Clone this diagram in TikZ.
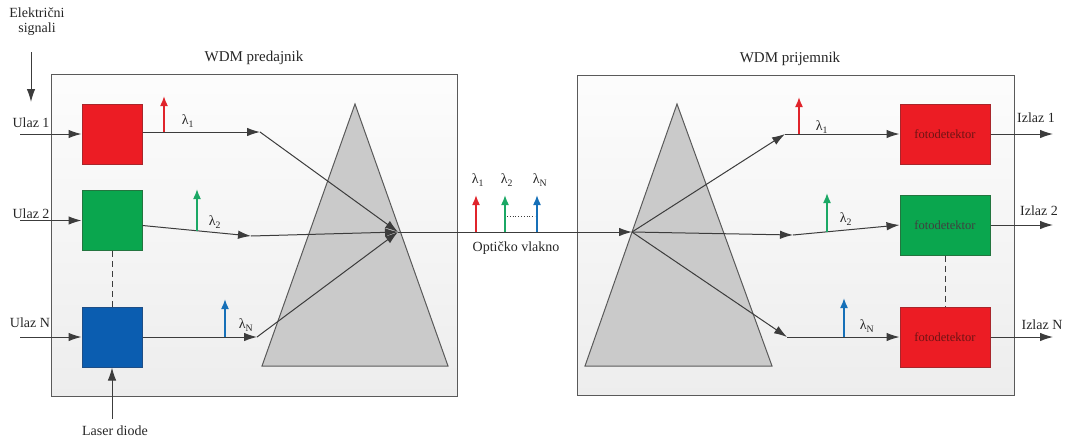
\documentclass[tikz,border=0pt]{standalone}
\usepackage{fontspec}
\setmainfont{Liberation Serif}
\usetikzlibrary{arrows.meta}
\definecolor{lncol}{HTML}{3C3C3C}
\definecolor{panelcol}{HTML}{5A5A5A}
\definecolor{redbox}{HTML}{EC1C24}
\definecolor{redbd}{HTML}{A8262B}
\definecolor{greenbox}{HTML}{0AA64E}
\definecolor{greenbd}{HTML}{23753F}
\definecolor{bluebox}{HTML}{0B5DB0}
\definecolor{bluebd}{HTML}{1E4E86}
\definecolor{redarr}{HTML}{E0242B}
\definecolor{greenarr}{HTML}{1BA865}
\definecolor{bluearr}{HTML}{1670B8}
\definecolor{prismfill}{HTML}{CACACA}
\definecolor{dettxt}{HTML}{6E1414}
\begin{document}
\begin{tikzpicture}[x=1pt,y=-1pt,
  ln/.style={draw=lncol, line width=1pt},
  arr/.style={ln, -{Latex[length=13pt,width=8.5pt]}},
  carr/.style={line width=1.6pt, -{Latex[length=10pt,width=8pt]}},
  panel/.style={draw=panelcol, line width=1pt, top color=white!99!black, bottom color=white!93!black, inner sep=0pt},
  prism/.style={draw=panelcol, line width=1pt, fill=prismfill},
  laser/.style={line width=1pt, minimum width=60pt, minimum height=60pt, inner sep=0pt},
  det/.style={line width=1pt, minimum width=90pt, minimum height=60pt, inner sep=0pt, font=\fontsize{12.5}{14}\selectfont},
  lbl/.style={font=\fontsize{14}{16}\selectfont, inner sep=0pt, text=black!85},
  ttl/.style={font=\fontsize{15}{17}\selectfont, inner sep=0pt, text=black!85},
  lam/.style={font=\fontsize{14}{15}\selectfont, inner sep=0pt, text=black!85},
  dashline/.style={draw=lncol, line width=1pt, dash pattern=on 6pt off 4pt},
]
\useasboundingbox (0,0) rectangle (1071,437);

% panels
\node[panel, minimum width=406pt, minimum height=322pt] (tx) at (254,235) {};
\node[panel, minimum width=437pt, minimum height=320pt] (rx) at (795.5,235) {};
\node[ttl] (txt) at (254,58) {WDM predajnik};
\node[ttl] (rxt) at (790,59) {WDM prijemnik};

% prisms
\coordinate (pLa) at (355,104);
\coordinate (pLb) at (262,366);
\coordinate (pLc) at (448,366);
\coordinate (pRa) at (677,104);
\coordinate (pRb) at (585,366);
\coordinate (pRc) at (772,366);
\draw[prism] (pLa) -- (pLb) -- (pLc) -- cycle;
\draw[prism] (pRa) -- (pRb) -- (pRc) -- cycle;

% lasers
\node[laser, fill=redbox, draw=redbd] (L1) at (112,134) {};
\node[laser, fill=greenbox, draw=greenbd] (L2) at (112,220.5) {};
\node[laser, fill=bluebox, draw=bluebd] (L3) at (112,337) {};
\draw[dashline] (L2.south) -- (L3.north);

% detectors
\node[det, fill=redbox, draw=redbd, text=dettxt] (D1) at (945,134) {fotodetektor};
\node[det, fill=greenbox, draw=greenbd, text=black!75] (D2) at (945,225) {fotodetektor};
\node[det, fill=redbox, draw=redbd, text=dettxt] (D3) at (945,337) {fotodetektor};
\draw[dashline] (D2.south) -- (D3.north);

% inputs
\node[lbl] (u1) at (31,123) {Ulaz 1};
\node[lbl] (u2) at (31,214) {Ulaz 2};
\node[lbl] (u3) at (30,323) {Ulaz N};
\coordinate (i1) at (20,134);
\coordinate (i2) at (20,220.5);
\coordinate (i3) at (20,337);
\draw[arr] (i1) -- (L1.west);
\draw[arr] (i2) -- (L2.west);
\draw[arr] (i3) -- (L3.west);

\node[lbl, align=center] (es) at (37,22) {Električni\\[-1pt]signali};
\coordinate (es1) at (31,52);
\coordinate (es2) at (31,102);
\draw[arr] (es1) -- (es2);

\node[lbl] (ld) at (115,431) {Laser diode};
\coordinate (ld1) at (112,419);
\draw[arr] (ld1) -- (L3.south);

% transmitter paths
\coordinate (cL) at (398,232);
\coordinate (b1) at (260,132);
\coordinate (b2) at (251,236);
\coordinate (b3) at (257,337);
\draw[arr] (L1.east |- b1) -- (b1);
\draw[arr] ([yshift=-5pt]L2.east) -- (b2);
\draw[arr] (L3.east) -- (b3);
\draw[arr] (b1) -- (cL);
\draw[arr] (b2) -- (cL);
\draw[arr] (b3) -- (cL);

% small colored arrows (transmitter)
\coordinate (s1a) at (164,132); \coordinate (s1b) at (164,96);
\coordinate (s2a) at (197,231); \coordinate (s2b) at (197,189);
\coordinate (s3a) at (225,337); \coordinate (s3b) at (225,299);
\draw[carr, redarr] (s1a) -- (s1b);
\draw[carr, greenarr] (s2a) -- (s2b);
\draw[carr, bluearr] (s3a) -- (s3b);
\node[lam] (l1) at (188,121) {λ\textsubscript{1}};
\node[lam] (l2) at (215,222) {λ\textsubscript{2}};
\node[lam] (l3) at (246,325) {λ\textsubscript{N}};

% fiber
\coordinate (cR) at (632,232);
\draw[arr] (cL) -- (cR);
\node[lbl] (ov) at (516,248) {Optičko vlakno};
\coordinate (f1a) at (476,232); \coordinate (f1b) at (476,195);
\coordinate (f2a) at (505,232); \coordinate (f2b) at (505,195);
\coordinate (f3a) at (537,232); \coordinate (f3b) at (537,195);
\draw[carr, redarr] (f1a) -- (f1b);
\draw[carr, greenarr] (f2a) -- (f2b);
\draw[carr, bluearr] (f3a) -- (f3b);
\coordinate (fd1) at (507,216); \coordinate (fd2) at (535,216);
\draw[lncol, line width=0.8pt, dotted] (fd1) -- (fd2);
\node[lam] (fl1) at (478,180) {λ\textsubscript{1}};
\node[lam] (fl2) at (507,180) {λ\textsubscript{2}};
\node[lam] (fl3) at (540,180) {λ\textsubscript{N}};

% receiver paths
\coordinate (a1) at (785,134);
\coordinate (a2) at (793,235);
\coordinate (a3) at (787,337);
\draw[arr] (cR) -- (a1);
\draw[arr] (cR) -- (a2);
\draw[arr] (cR) -- (a3);
\draw[arr] (a1) -- (D1.west);
\draw[arr] (a2) -- (D2.west);
\draw[arr] (a3) -- (D3.west);

\coordinate (r1a) at (799,134); \coordinate (r1b) at (799,97);
\coordinate (r2a) at (827,232); \coordinate (r2b) at (827,193);
\coordinate (r3a) at (844,337); \coordinate (r3b) at (844,298);
\draw[carr, redarr] (r1a) -- (r1b);
\draw[carr, greenarr] (r2a) -- (r2b);
\draw[carr, bluearr] (r3a) -- (r3b);
\node[lam] (rl1) at (822,127) {λ\textsubscript{1}};
\node[lam] (rl2) at (846,219) {λ\textsubscript{2}};
\node[lam] (rl3) at (867,326) {λ\textsubscript{N}};

% outputs
\coordinate (o1) at (1053,134);
\coordinate (o2) at (1053,225);
\coordinate (o3) at (1053,337);
\draw[arr] (D1.east) -- (o1);
\draw[arr] (D2.east) -- (o2);
\draw[arr] (D3.east) -- (o3);
\node[lbl] (z1) at (1036,118) {Izlaz 1};
\node[lbl] (z2) at (1039,211) {Izlaz 2};
\node[lbl] (z3) at (1042,325) {Izlaz N};
\end{tikzpicture}
\end{document}
